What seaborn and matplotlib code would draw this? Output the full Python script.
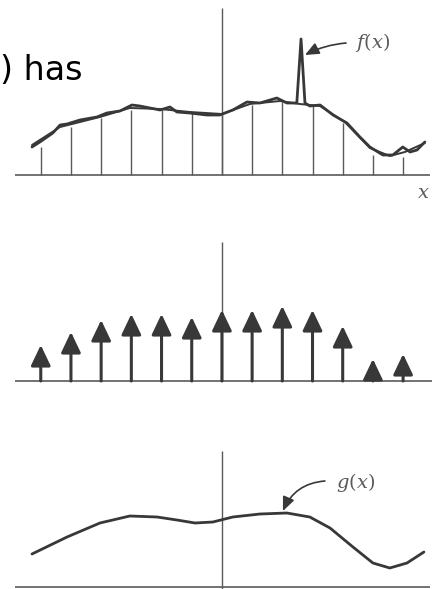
import numpy as np
import pandas as pd
import seaborn as sns
import matplotlib.pyplot as plt

# sample positions (one unit = sample spacing), axis at 0
sample_x = [-6, -5, -4, -3, -2, -1, 0, 1, 2, 3, 4, 5, 6]
# f(x) value at each sample (top panel stems)
sample_f = [2.8, 4.8, 5.7, 6.5, 6.5, 6.2, 6.0, 7.0, 7.3, 7.0, 5.2, 2.0, 1.8]
# impulse heights (middle panel arrows)
impulse_h = [3.6, 4.9, 6.1, 6.7, 6.7, 6.4, 7.1, 7.1, 7.5, 7.1, 5.5, 2.2, 2.7]

# noisy f(x) with spike
f_x = [-6.29, -6.03, -5.60, -5.36, -5.13, -4.70, -4.14, -3.81, -3.38, -2.98, -2.72,
       -2.05, -1.72, -1.49, -1.06, -0.50, -0.07, 0.36, 0.83, 1.26, 1.82, 2.15, 2.48,
       2.62, 2.75, 2.91, 3.25, 3.68, 4.14, 4.57, 4.90, 5.33, 5.66, 5.99, 6.23, 6.46, 6.72]
f_y = [2.8, 3.3, 4.2, 5.0, 5.1, 5.5, 5.8, 6.2, 6.4, 7.0, 6.9,
       6.5, 6.8, 6.3, 6.2, 6.0, 6.0, 6.5, 7.3, 7.2, 7.7, 7.2, 7.2,
       13.6, 7.2, 6.9, 7.0, 6.0, 5.2, 3.8, 2.8, 2.0, 2.0, 2.8, 2.3, 2.5, 3.3]
# second smoother trace of f(x)
fs_x = [-6.29, -5.36, -4.04, -3.05, -2.05, -1.06, 0.0, 0.93, 1.92, 2.58, 3.25,
        4.07, 4.90, 5.56, 6.06, 6.72]
fs_y = [3.0, 4.8, 5.8, 6.7, 6.6, 6.3, 6.1, 7.1, 7.4, 7.1, 6.9,
        5.3, 2.7, 1.9, 2.3, 3.2]

# g(x) smooth curve
g_x = [-6.29, -5.13, -4.04, -3.05, -2.15, -1.49, -0.89, -0.30, 0.36, 1.26, 2.15,
       2.91, 3.58, 4.34, 5.00, 5.56, 6.13, 6.69]
g_y = [3.3, 5.0, 6.4, 7.1, 7.0, 6.7, 6.4, 6.5, 7.0, 7.3, 7.4,
       7.0, 5.9, 4.0, 2.4, 1.9, 2.4, 3.5]

sns.set_theme(style="white")
plt.rcParams['mathtext.fontset'] = 'dejavuserif'

dark = "#383838"
thin = "#5a5a5a"

fig = plt.figure(figsize=(4.36, 5.89), dpi=100)
H = 589.0
ax_top = fig.add_axes([0, 1 - 200 / H, 1, 200 / H])
ax_mid = fig.add_axes([0, 189 / H, 1, 200 / H])
ax_bot = fig.add_axes([0, 0, 1, 189 / H])

for ax in (ax_top, ax_mid, ax_bot):
    ax.set_xlim(-7.35, 7.09)
    ax.axis("off")
ax_top.set_ylim(-2.5, 17.5)
ax_mid.set_ylim(-1.9, 18.1)
ax_bot.set_ylim(-0.2, 18.7)

# top panel: f(x) and its samples
ax_top.hlines(0, -6.85, 6.89, color=thin, lw=1.2)
ax_top.vlines(0, 0, 16.7, color=thin, lw=1.0)
ax_top.vlines(sample_x, 0, sample_f, color=thin, lw=1.0)
sns.lineplot(x=fs_x, y=fs_y, ax=ax_top, color=dark, lw=1.4, estimator=None)
sns.lineplot(x=f_x, y=f_y, ax=ax_top, color=dark, lw=2.0, estimator=None)
ax_top.annotate("", xy=(2.75, 12.0), xytext=(4.11, 13.2),
                arrowprops=dict(arrowstyle="-|>,head_length=0.7,head_width=0.3",
                                color=dark, lw=1.2, shrinkA=0, shrinkB=0,
                                connectionstyle="arc3,rad=0.1"))
ax_top.text(5.0, 13.2, r"$f(x)$", fontsize=14, color=thin, ha="center", va="center")
ax_top.text(6.66, -1.7, r"$x$", fontsize=14, color=thin, ha="center", va="center")

# middle panel: impulses
ax_mid.hlines(0, -6.85, 6.95, color=thin, lw=1.2)
ax_mid.vlines(0, 0, 13.9, color=thin, lw=1.0)
for xs, hs in zip(sample_x, impulse_h):
    ax_mid.annotate("", xy=(xs, hs), xytext=(xs, 0),
                    arrowprops=dict(arrowstyle="-|>,head_length=1.05,head_width=0.5",
                                    color=dark, lw=2.2, shrinkA=0, shrinkB=0))

# bottom panel: g(x)
ax_bot.hlines(0, -6.85, 6.89, color=thin, lw=1.2)
ax_bot.vlines(0, -0.2, 13.6, color=thin, lw=1.0)
sns.lineplot(x=g_x, y=g_y, ax=ax_bot, color=dark, lw=2.0, estimator=None)
ax_bot.annotate("", xy=(2.02, 7.6), xytext=(3.41, 10.6),
                arrowprops=dict(arrowstyle="-|>,head_length=0.7,head_width=0.3",
                                color=dark, lw=1.2, shrinkA=0, shrinkB=0,
                                connectionstyle="arc3,rad=0.3"))
ax_bot.text(4.44, 10.5, r"$g(x)$", fontsize=14, color=thin, ha="center", va="center")

fig.text(0.0, 1 - 80 / H, ") has", fontsize=24, color="black", va="baseline")

fig.savefig("out.png", dpi=100)
